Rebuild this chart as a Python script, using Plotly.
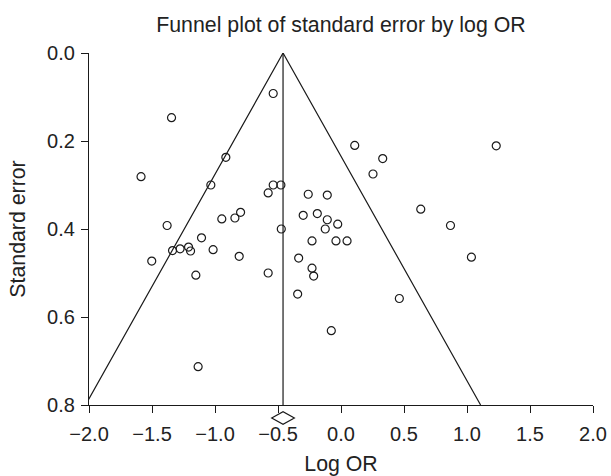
import plotly.graph_objects as go

# ---- data ----
log_or = [-0.538, -1.345, -0.914, -1.587, -1.033, -0.538, -0.477, -0.578, -0.797, -0.842,
          -0.946, -1.380, -0.474, -1.107, -1.337, -1.277, -1.210, -1.194, -1.015, -0.808,
          -1.502, -1.152, -0.578, -0.260, -0.109, -0.300, -0.188, -0.109, -0.026, -0.125,
          -0.230, -0.040, -0.336, -0.230, -0.217, 0.109, 0.331, 0.254, 1.232, 0.633,
          0.869, 1.035, 0.048, -0.344, -0.077, -1.134, 0.463]
std_err = [0.092, 0.147, 0.237, 0.281, 0.300, 0.300, 0.300, 0.318, 0.362, 0.375,
           0.377, 0.392, 0.400, 0.420, 0.449, 0.445, 0.441, 0.450, 0.447, 0.462,
           0.473, 0.505, 0.500, 0.321, 0.323, 0.369, 0.365, 0.379, 0.389, 0.400,
           0.427, 0.427, 0.466, 0.489, 0.507, 0.210, 0.240, 0.275, 0.211, 0.355,
           0.392, 0.464, 0.427, 0.548, 0.631, 0.713, 0.558]
pooled_log_or = -0.46
max_se = 0.8
z_crit = 1.96

x_ticks = [-2.0, -1.5, -1.0, -0.5, 0.0, 0.5, 1.0, 1.5, 2.0]
y_ticks = [0.0, 0.2, 0.4, 0.6, 0.8]

FONT = "Liberation Sans, Arial, sans-serif"
INK = "#1a1a1a"
TXT = "#222"

fig = go.Figure()

# funnel (pseudo 95% limits)
fig.add_trace(go.Scatter(
    x=[pooled_log_or - z_crit * max_se, pooled_log_or, pooled_log_or + z_crit * max_se],
    y=[max_se, 0.0, max_se],
    mode="lines", line=dict(color=INK, width=1.2), hoverinfo="skip", showlegend=False))
# vertical line at pooled estimate
fig.add_trace(go.Scatter(
    x=[pooled_log_or, pooled_log_or], y=[0.0, max_se],
    mode="lines", line=dict(color=INK, width=1.2), hoverinfo="skip", showlegend=False))
# studies
fig.add_trace(go.Scatter(
    x=log_or, y=std_err, mode="markers",
    marker=dict(symbol="circle-open", size=8, color=INK, line=dict(width=1.2, color=INK)),
    showlegend=False))

# pooled diamond just below the x axis (x in data units, y in paper units)
d_half_w = 0.09
d_yc = -0.037
d_half_h = 0.018
fig.add_shape(
    type="path", xref="x", yref="paper", layer="above",
    path=(f"M {pooled_log_or - d_half_w},{d_yc} L {pooled_log_or},{d_yc + d_half_h} "
          f"L {pooled_log_or + d_half_w},{d_yc} L {pooled_log_or},{d_yc - d_half_h} Z"),
    line=dict(color=INK, width=1.2), fillcolor="white")

fig.update_layout(
    width=611, height=476,
    margin=dict(l=89.3, r=18.3, t=53.3, b=71),
    paper_bgcolor="white", plot_bgcolor="white",
    font=dict(family=FONT, color=TXT, size=20),
    title=dict(text="Funnel plot of standard error by log OR", x=0.558,
               xanchor="center", y=1 - 25 / 476, yanchor="middle",
               font=dict(family=FONT, size=21.3, color=TXT)),
)
fig.update_xaxes(
    range=[-2.0, 2.0], tickvals=x_ticks, ticktext=[f"{v:.1f}".replace("-", "\u2212") for v in x_ticks],
    showline=True, linecolor=INK, linewidth=1.2, ticks="outside", ticklen=7, tickwidth=1.2,
    tickcolor=INK, showgrid=False, zeroline=False, automargin=False, ticklabelstandoff=4,
    tickfont=dict(size=20, family=FONT, color=TXT),
    title=dict(text="Log OR", font=dict(size=21.3, family=FONT, color=TXT), standoff=19))
fig.update_yaxes(
    range=[0.8, 0.0], tickvals=y_ticks, ticktext=[f"{v:.1f}" for v in y_ticks],
    showline=True, linecolor=INK, linewidth=1.2, ticks="outside", ticklen=7, tickwidth=1.2,
    tickcolor=INK, showgrid=False, zeroline=False, automargin=False, ticklabelstandoff=2,
    tickfont=dict(size=20, family=FONT, color=TXT),
    title=dict(text="Standard error", font=dict(size=21.3, family=FONT, color=TXT), standoff=15))

fig.write_html("out.html", config={"displayModeBar": False},
               post_script="document.body.style.margin='0px';document.body.style.overflow='hidden';")
